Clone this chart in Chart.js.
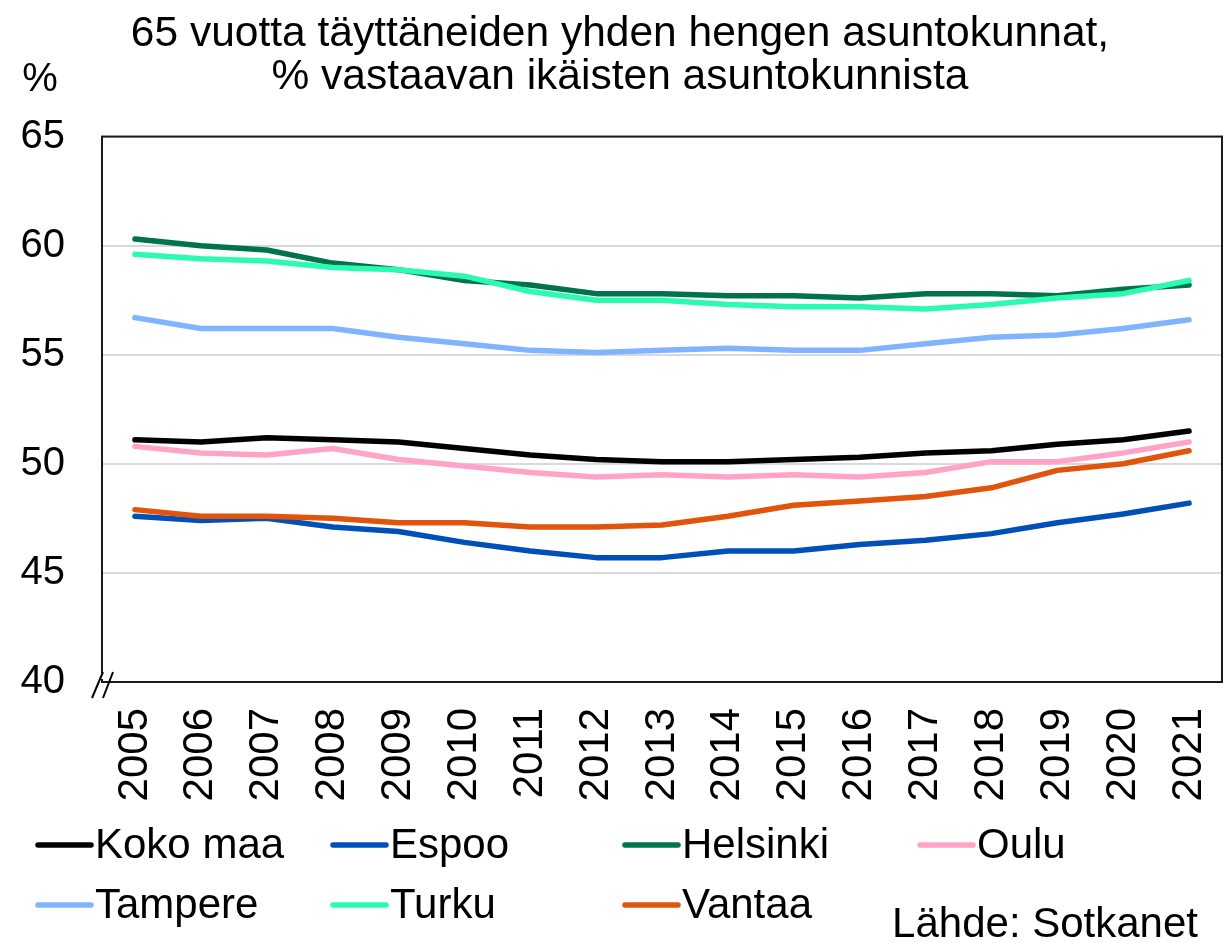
<!DOCTYPE html>
<html lang="fi">
<head>
<meta charset="utf-8">
<title>Yhden hengen asuntokunnat</title>
<script src="https://cdn.jsdelivr.net/npm/chart.js@4.4.1/dist/chart.umd.min.js"></script>
<style>
  html, body { margin: 0; padding: 0; background: #fff; }
  #wrap { width: 1227px; height: 943px; }
</style>
</head>
<body>
<div id="wrap"><canvas id="chart" width="1227" height="943"></canvas></div>
<script>
const years = ["2005", "2006", "2007", "2008", "2009", "2010", "2011", "2012", "2013",
  "2014", "2015", "2016", "2017", "2018", "2019", "2020", "2021"];

const kokoMaa  = [51.1, 51.0, 51.2, 51.1, 51.0, 50.7, 50.4, 50.2, 50.1, 50.1, 50.2, 50.3, 50.5, 50.6, 50.9, 51.1, 51.5];
const espoo    = [47.6, 47.4, 47.5, 47.1, 46.9, 46.4, 46.0, 45.7, 45.7, 46.0, 46.0, 46.3, 46.5, 46.8, 47.3, 47.7, 48.2];
const helsinki = [60.3, 60.0, 59.8, 59.2, 58.9, 58.4, 58.2, 57.8, 57.8, 57.7, 57.7, 57.6, 57.8, 57.8, 57.7, 58.0, 58.2];
const oulu     = [50.8, 50.5, 50.4, 50.7, 50.2, 49.9, 49.6, 49.4, 49.5, 49.4, 49.5, 49.4, 49.6, 50.1, 50.1, 50.5, 51.0];
const tampere  = [56.7, 56.2, 56.2, 56.2, 55.8, 55.5, 55.2, 55.1, 55.2, 55.3, 55.2, 55.2, 55.5, 55.8, 55.9, 56.2, 56.6];
const turku    = [59.6, 59.4, 59.3, 59.0, 58.9, 58.6, 57.9, 57.5, 57.5, 57.3, 57.2, 57.2, 57.1, 57.3, 57.6, 57.8, 58.4];
const vantaa   = [47.9, 47.6, 47.6, 47.5, 47.3, 47.3, 47.1, 47.1, 47.2, 47.6, 48.1, 48.3, 48.5, 48.9, 49.7, 50.0, 50.6];

const seriesNames = ["Koko maa", "Espoo", "Helsinki", "Oulu", "Tampere", "Turku", "Vantaa"];
const seriesData = [kokoMaa, espoo, helsinki, oulu, tampere, turku, vantaa];
const seriesColors = ["#000000", "#0050b8", "#00734a", "#ffa3c8", "#80b4ff", "#2bfbb0", "#e0540c"];

const FONT = "'Liberation Sans', Arial, sans-serif";

// later series are painted over earlier ones
const datasets = seriesNames.map((name, i) => ({
  label: name,
  data: seriesData[i],
  borderColor: seriesColors[i],
  backgroundColor: seriesColors[i],
  borderWidth: 5.5,
  borderCapStyle: "round",
  borderJoinStyle: "round",
  pointRadius: 0,
  tension: 0,
  order: seriesNames.length - i,
}));

// frame around the plot, axis break mark, unit label, legend grid and source
const extras = {
  id: "extras",
  beforeDatasetsDraw(chart) {
    const { ctx, chartArea: a } = chart;
    ctx.save();
    ctx.strokeStyle = "#1a1a1a";
    ctx.lineWidth = 2;
    ctx.strokeRect(a.left, a.top, a.right - a.left, a.bottom - a.top);
    ctx.restore();
  },
  afterDraw(chart) {
    const { ctx, chartArea: a } = chart;
    ctx.save();
    // break mark on the value axis
    ctx.fillStyle = "#fff";
    ctx.fillRect(a.left - 3, a.bottom - 9, 8, 6);
    ctx.strokeStyle = "#000";
    ctx.lineWidth = 2;
    ctx.beginPath();
    ctx.moveTo(a.left - 10, a.bottom + 16);
    ctx.lineTo(a.left + 1, a.bottom - 10);
    ctx.moveTo(a.left + 1, a.bottom + 16);
    ctx.lineTo(a.left + 11, a.bottom - 10);
    ctx.stroke();

    ctx.fillStyle = "#000";
    ctx.font = "40px " + FONT;
    ctx.textBaseline = "middle";
    ctx.textAlign = "center";
    ctx.fillText("%", 40, 80);

    // legend, four columns
    const colX = [35, 330, 622, 917];
    const rowY = [845, 905];
    ctx.font = "42px " + FONT;
    ctx.textAlign = "left";
    ctx.lineCap = "round";
    ctx.lineWidth = 5.5;
    chart.data.datasets.forEach((ds, i) => {
      const x = colX[i % 4];
      const y = rowY[Math.floor(i / 4)];
      ctx.strokeStyle = ds.borderColor;
      ctx.beginPath();
      ctx.moveTo(x + 3, y);
      ctx.lineTo(x + 56, y);
      ctx.stroke();
      ctx.fillText(ds.label, x + 60, y + 1);
    });

    ctx.textAlign = "right";
    ctx.fillText("Lähde: Sotkanet", 1198, 925);
    ctx.restore();
  },
};

new Chart(document.getElementById("chart"), {
  type: "line",
  data: { labels: years, datasets: datasets },
  plugins: [extras],
  options: {
    responsive: false,
    animation: false,
    layout: { padding: { left: 18, right: 5, top: 0, bottom: 131 } },
    plugins: {
      legend: { display: false },
      tooltip: { enabled: false },
      title: {
        display: true,
        text: ["65 vuotta täyttäneiden yhden hengen asuntokunnat,", "% vastaavan ikäisten asuntokunnista"],
        color: "#000",
        font: { family: FONT, size: 42.5, weight: "normal", lineHeight: 1.03 },
        padding: { top: 12, bottom: 37 },
      },
    },
    scales: {
      x: {
        offset: true,
        grid: { display: false, drawTicks: false },
        border: { display: false },
        ticks: {
          color: "#000",
          font: { family: FONT, size: 42 },
          minRotation: 90,
          maxRotation: 90,
          autoSkip: false,
          padding: 26,
        },
        afterFit(scale) {
          scale.height = 130;
          scale.paddingLeft = 0;
          scale.paddingRight = 0;
        },
      },
      y: {
        min: 40,
        max: 65,
        grid: { color: "#d9d9d9", lineWidth: 2, drawTicks: false },
        border: { display: false },
        ticks: {
          stepSize: 5,
          color: "#000",
          font: { family: FONT, size: 40 },
          padding: 37,
        },
        afterFit(scale) { scale.width = 84; },
      },
    },
  },
});
</script>
</body>
</html>
